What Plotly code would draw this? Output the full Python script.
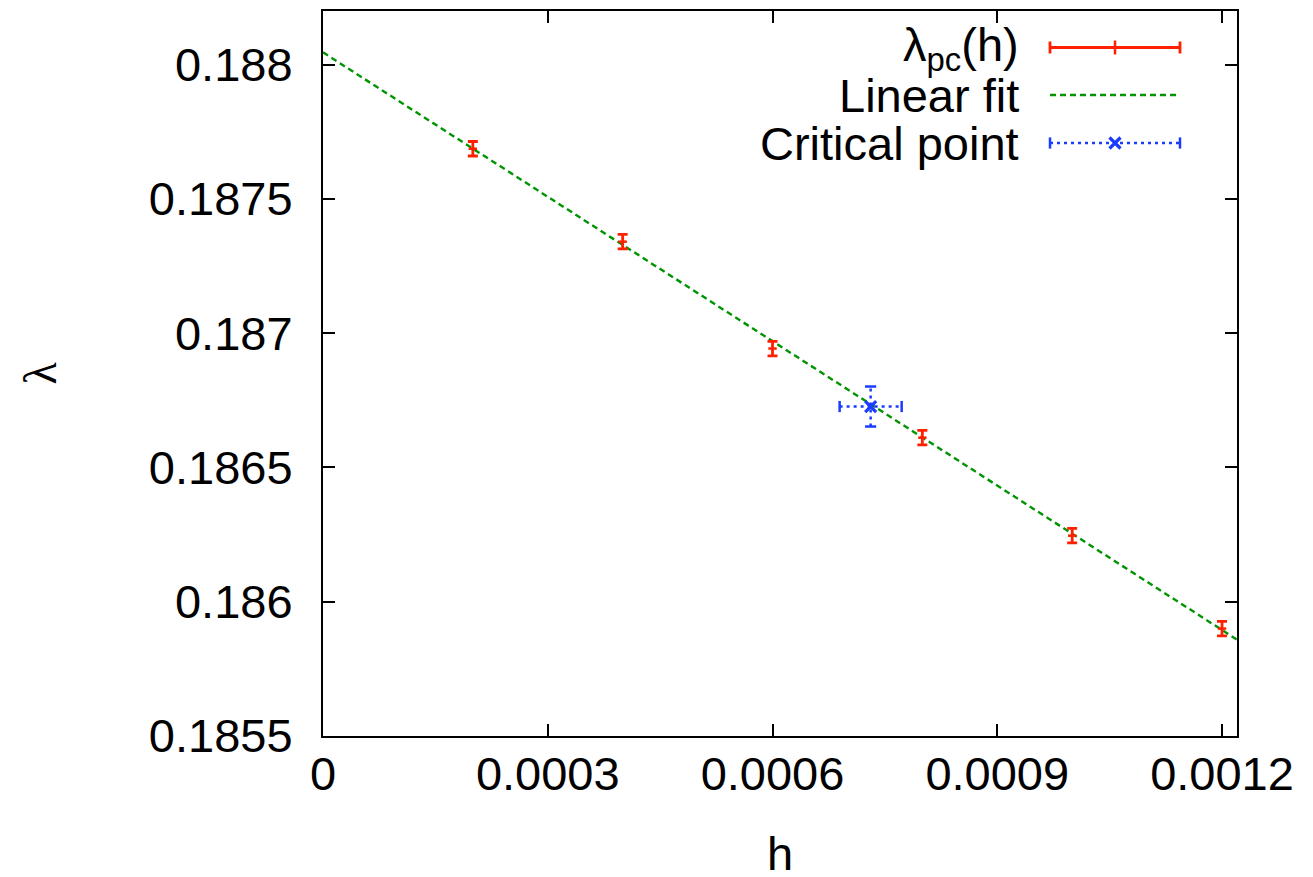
import plotly.graph_objects as go

# ---- data ----
h_vals = [0.0002, 0.0004, 0.0006, 0.0008, 0.0010, 0.0012]
lam_vals = [0.187687, 0.187341, 0.186943, 0.186611, 0.186246, 0.185900]
lam_err = [0.000027, 0.000027, 0.000027, 0.000027, 0.000027, 0.000027]

fit_h = [0.0, 0.00122]
fit_lam = [0.188046, 0.185859]

crit_h = [0.000731]
crit_lam = [0.186727]
crit_herr = [0.0000414]
crit_lamerr = [0.0000745]

x_ticks = [0, 0.0003, 0.0006, 0.0009, 0.0012]
x_ticktext = ["0", "0.0003", "0.0006", "0.0009", "0.0012"]
y_ticks = [0.1855, 0.186, 0.1865, 0.187, 0.1875, 0.188]
y_ticktext = ["0.1855", "0.186", "0.1865", "0.187", "0.1875", "0.188"]

legend_labels = ["λ<sub>pc</sub>(h)", "Linear fit", "Critical point"]

RED = "#ff2000"
GREEN = "#009400"
BLUE = "#1a3cff"
FONT = "Liberation Sans"
FS = 47

fig = go.Figure()

# linear fit
fig.add_trace(go.Scatter(x=fit_h, y=fit_lam, mode="lines",
                         line=dict(color=GREEN, width=2.4, dash="6px,4px"),
                         showlegend=False, hoverinfo="skip"))

# data with error bars
fig.add_trace(go.Scatter(x=h_vals, y=lam_vals, mode="markers",
                         marker=dict(symbol="line-ew", size=6, color=RED,
                                     line=dict(color=RED, width=2.5)),
                         error_y=dict(type="data", array=lam_err, visible=True,
                                      color=RED, thickness=2.8, width=5),
                         showlegend=False))

# critical point: dotted error bars built from the data
ch, cl, ex, ey = crit_h[0], crit_lam[0], crit_herr[0], crit_lamerr[0]
fig.add_trace(go.Scatter(x=[ch - ex, ch + ex], y=[cl, cl], mode="lines",
                         line=dict(color=BLUE, width=2.5, dash="3px,4px"),
                         showlegend=False, hoverinfo="skip"))
fig.add_trace(go.Scatter(x=[ch, ch], y=[cl - ey, cl + ey], mode="lines",
                         line=dict(color=BLUE, width=2.5, dash="3px,4px"),
                         showlegend=False, hoverinfo="skip"))
fig.add_trace(go.Scatter(x=[ch - ex, ch + ex], y=[cl, cl], mode="markers",
                         marker=dict(symbol="line-ns", size=8, color=BLUE,
                                     line=dict(color=BLUE, width=2.5)),
                         showlegend=False, hoverinfo="skip"))
fig.add_trace(go.Scatter(x=[ch, ch], y=[cl - ey, cl + ey], mode="markers",
                         marker=dict(symbol="line-ew", size=8, color=BLUE,
                                     line=dict(color=BLUE, width=2.5)),
                         showlegend=False, hoverinfo="skip"))
fig.add_trace(go.Scatter(x=crit_h, y=crit_lam, mode="markers",
                         marker=dict(symbol="x-thin", size=11, color=BLUE,
                                     line=dict(color=BLUE, width=3.2)),
                         showlegend=False))

# ---- manual legend (gnuplot style: text, then sample on the right) ----
L, R, T, B = 323, 1237, 11, 736
ly = [47.5, 95, 143]
sx0, sx1, smid = 1050, 1180, 1115

fig.add_trace(go.Scatter(x=[smid], y=[ly[0]], xaxis="x2", yaxis="y2", mode="markers",
                         marker=dict(symbol="line-ns", size=10, color=RED,
                                     line=dict(color=RED, width=2.5)),
                         error_x=dict(type="data", array=[smid - sx0], visible=True,
                                      color=RED, thickness=2.8, width=6),
                         showlegend=False, hoverinfo="skip"))
fig.add_trace(go.Scatter(x=[sx0, sx1], y=[ly[1], ly[1]], xaxis="x2", yaxis="y2", mode="lines",
                         line=dict(color=GREEN, width=2.4, dash="6px,4px"),
                         showlegend=False, hoverinfo="skip"))
fig.add_trace(go.Scatter(x=[sx0, sx1], y=[ly[2], ly[2]], xaxis="x2", yaxis="y2", mode="lines",
                         line=dict(color=BLUE, width=2.5, dash="3px,4px"),
                         showlegend=False, hoverinfo="skip"))
fig.add_trace(go.Scatter(x=[sx0, sx1], y=[ly[2], ly[2]], xaxis="x2", yaxis="y2", mode="markers",
                         marker=dict(symbol="line-ns", size=8, color=BLUE,
                                     line=dict(color=BLUE, width=2.5)),
                         showlegend=False, hoverinfo="skip"))
fig.add_trace(go.Scatter(x=[smid], y=[ly[2]], xaxis="x2", yaxis="y2", mode="markers",
                         marker=dict(symbol="x-thin", size=11, color=BLUE,
                                     line=dict(color=BLUE, width=3.2)),
                         showlegend=False, hoverinfo="skip"))

annotations = []
for lab, yy in zip(legend_labels, ly):
    annotations.append(dict(x=1021, y=yy, xref="x2", yref="y2", text=lab,
                            showarrow=False, xanchor="right", yanchor="middle",
                            font=dict(family=FONT, size=FS, color="black")))

# axis titles
annotations.append(dict(x=0.5, y=-(853 - B) / (B - T), xref="paper", yref="paper",
                        text="h", showarrow=False, xanchor="center", yanchor="middle",
                        font=dict(family=FONT, size=FS, color="black")))
annotations.append(dict(x=-(L - 40) / (R - L), y=0.5, xref="paper", yref="paper",
                        text="λ", showarrow=False, xanchor="center", yanchor="middle",
                        textangle=-90,
                        font=dict(family="Liberation Serif", size=46, color="black")))

axis_common = dict(showline=True, linecolor="black", linewidth=2, mirror="ticks",
                   ticks="inside", ticklen=12, tickwidth=2, tickcolor="black",
                   showgrid=False, zeroline=False, automargin=False,
                   tickfont=dict(family=FONT, size=FS, color="black"))

fig.update_layout(
    width=1313, height=877,
    margin=dict(l=L, r=1313 - R, t=T, b=877 - B, autoexpand=False),
    paper_bgcolor="white", plot_bgcolor="white",
    showlegend=False,
    xaxis=dict(range=[0, 0.00122], tickvals=x_ticks, ticktext=x_ticktext,
               ticklabelstandoff=-4, **axis_common),
    yaxis=dict(range=[0.1855, 0.1882], tickvals=y_ticks, ticktext=y_ticktext,
               ticklabelstandoff=19, **axis_common),
    xaxis2=dict(range=[L, R], overlaying="x", visible=False, fixedrange=True),
    yaxis2=dict(range=[B, T], overlaying="y", visible=False, fixedrange=True),
    annotations=annotations,
)

fig.write_html("out.html")
